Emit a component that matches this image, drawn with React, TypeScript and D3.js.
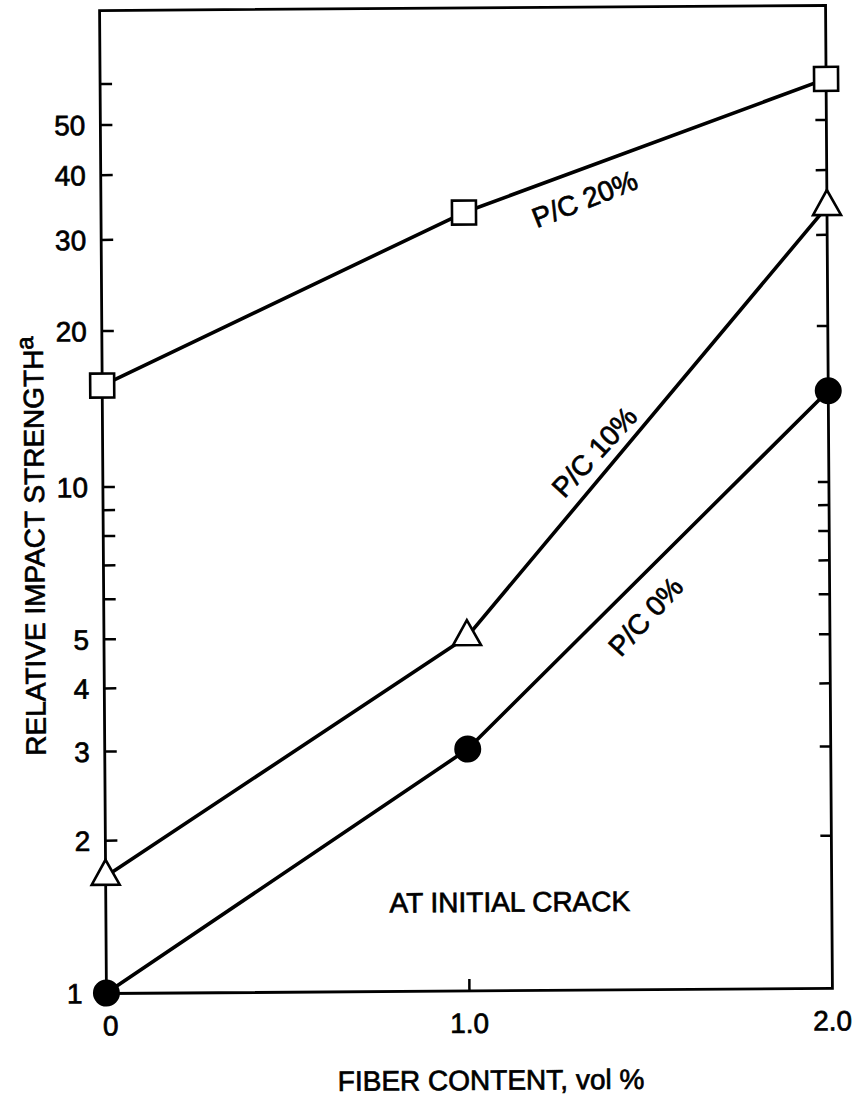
import React from "react";
import * as d3 from "d3";

const fiberContent = [0, 1.0, 2.0];
const pc20 = [15.7, 33.5, 60];
const pc10 = [1.7, 5.0, 34];
const pc0 = [1.0, 3.0, 15];

const yTickValues = [1, 2, 3, 4, 5, 6, 7, 8, 9, 10, 20, 30, 40, 50, 60];
const yTickLabels = [1, 2, 3, 4, 5, 10, 20, 30, 40, 50];
const xTickValues = [0, 1.0, 2.0];
const xTickLabels = ["0", "1.0", "2.0"];

const W = 855;
const H = 1096;
const L = 103;
const R = 829;
const T = 8;
const B = 991;

const FONT = "'Liberation Sans', Arial, Helvetica, sans-serif";

export default function App() {
  const x = d3.scaleLinear().domain([0, 2]).range([L, R]);
  const y = d3.scaleLog().domain([1, 10, 100]).range([990.5, 484.5, -33.5]);

  const line = d3
    .line<number>()
    .x((_, i) => x(fiberContent[i]))
    .y((d) => y(d));

  const series = [
    { name: "P/C 20%", values: pc20, marker: "square" },
    { name: "P/C 10%", values: pc10, marker: "triangle" },
    { name: "P/C 0%", values: pc0, marker: "circle" },
  ];

  const sq = 24;
  const triSide = 28;
  const triH = 25;

  const renderMarker = (m: string, cx: number, cy: number, key: string) => {
    if (m === "square") {
      return (
        <rect key={key} x={cx - sq / 2} y={cy - sq / 2} width={sq} height={sq}
          fill="#fff" stroke="#000" strokeWidth={2.6} />
      );
    }
    if (m === "triangle") {
      const top = cy - (triH * 2) / 3;
      const bot = cy + triH / 3;
      return (
        <path key={key}
          d={`M${cx},${top} L${cx + triSide / 2},${bot} L${cx - triSide / 2},${bot} Z`}
          fill="#fff" stroke="#000" strokeWidth={2.6} strokeLinejoin="miter" />
      );
    }
    return <circle key={key} cx={cx} cy={cy} r={13.5} fill="#000" />;
  };

  const textStyle = {
    fontFamily: FONT,
    fontSize: 28,
    fill: "#000",
    stroke: "#000",
    strokeWidth: 0.7,
  } as const;

  return (
    <svg width={W} height={H} style={{ position: "absolute", left: 0, top: 0, background: "#fff" }}>
      <rect x={0} y={0} width={W} height={H} fill="#fff" />
      <g transform="rotate(-0.4, 466, 500)">
        {/* frame */}
        <rect x={L} y={T} width={R - L} height={B - T} fill="none" stroke="#000" strokeWidth={2.8} />

        {/* y ticks left & right */}
        {yTickValues.filter((v) => v !== 1).map((v) => (
          <g key={"yt" + v}>
            <line x1={L} x2={L + 12} y1={y(v)} y2={y(v)} stroke="#000" strokeWidth={2.5} />
            <line x1={R} x2={R - 11} y1={y(v)} y2={y(v)} stroke="#000" strokeWidth={2.5} />
          </g>
        ))}
        {yTickLabels.map((v) => (
          <text key={"yl" + v} x={L - (v === 1 ? 24 : 15)} y={y(v)} dy="0.36em" textAnchor="end" {...textStyle}>
            {v}
          </text>
        ))}

        {/* x ticks */}
        {xTickValues.map((v, i) => (
          <g key={"xt" + v}>
            {v > 0 && v < 2 && (
              <line x1={x(v)} x2={x(v)} y1={B} y2={B - 12} stroke="#000" strokeWidth={2.5} />
            )}
            <text x={x(v) + (i === 0 ? 4 : 0)} y={B + 42} textAnchor="middle" {...textStyle}>
              {xTickLabels[i]}
            </text>
          </g>
        ))}

        {/* axis titles */}
        <text x={(L + R) / 2 + 21} y={B + 99} textAnchor="middle" {...textStyle}>
          FIBER CONTENT, vol %
        </text>
        <text transform={`translate(44, 543) rotate(-90)`} textAnchor="middle" {...textStyle}>
          RELATIVE IMPACT STRENGTH
          <tspan dy={-10} fontSize={24}>a</tspan>
        </text>

        {/* lines */}
        {series.map((s) => (
          <path key={"l" + s.name} d={line(s.values) || ""} fill="none" stroke="#000"
            strokeWidth={3.6} strokeLinejoin="round" />
        ))}
        {/* markers */}
        {series.map((s) =>
          s.values.map((v, i) => renderMarker(s.marker, x(fiberContent[i]), y(v), s.name + i))
        )}

        {/* series labels */}
        <text transform={`translate(${x(1.333)}, ${y(35.4)}) rotate(-21)`} textAnchor="middle"
          dominantBaseline="central" {...textStyle}>
          P/C 20%
        </text>
        <text transform={`translate(${x(1.355)}, ${y(11.5)}) rotate(-47)`} textAnchor="middle"
          dominantBaseline="central" {...textStyle}>
          P/C 10%
        </text>
        <text transform={`translate(${x(1.493)}, ${y(5.45)}) rotate(-47)`} textAnchor="middle"
          dominantBaseline="central" {...textStyle}>
          P/C 0%
        </text>

        <text x={507} y={912} textAnchor="middle" {...textStyle}>
          AT INITIAL CRACK
        </text>
      </g>
    </svg>
  );
}
